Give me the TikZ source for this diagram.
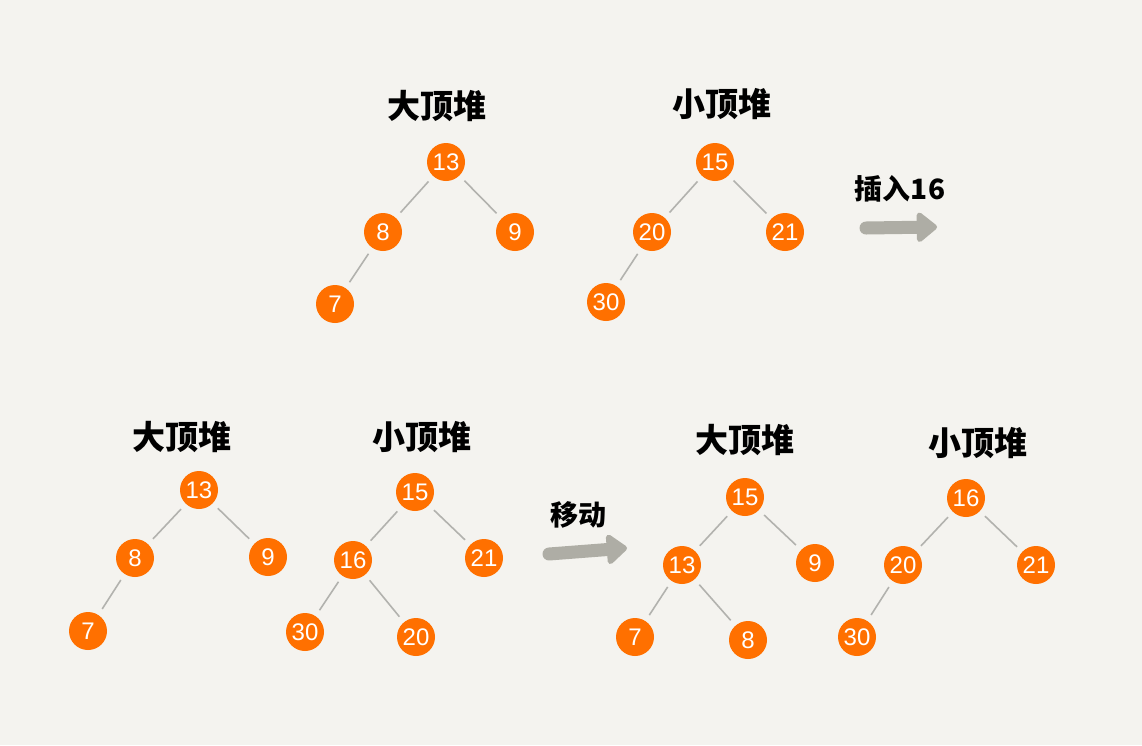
\documentclass[tikz,border=0pt]{standalone}
\usepackage{fontspec}
\setmainfont{Liberation Sans}
\newfontfamily\cjk{Noto Sans CJK SC}
\usetikzlibrary{arrows.meta}
\definecolor{paper}{HTML}{F4F3EF}
\definecolor{heap}{HTML}{FF7000}
\definecolor{link}{HTML}{B2B2AE}
\definecolor{shaft}{HTML}{AEADA5}
\tikzset{
  key/.style={circle,fill=heap,minimum size=38pt,inner sep=0pt,text=white,
    font=\fontsize{24}{24}\selectfont},
  heading/.style={font=\cjk\bfseries\fontsize{33}{33}\selectfont},
  note/.style={font=\cjk\bfseries\fontsize{28}{28}\selectfont},
  link/.style={draw=link,line width=1.6pt,shorten >=7pt,shorten <=7pt},
  move/.style={draw=shaft,line width=13pt,line cap=round,
    -{Triangle[length=22pt,width=34pt,round]}}
}
\begin{document}
\begin{tikzpicture}[x=1pt,y=-1pt]
        \fill[paper] (0,0) rectangle (1142,745);
        % top: before insert
        \node[heading] (abig) at (437,106) {大顶堆};
        \node[key] (a13) at (446,162) {13};
        \node[key] (a8) at (383,232) {8};
        \node[key] (a9) at (515,232) {9};
        \node[key] (a7) at (335,304) {7};
        \draw[link] (a13) -- (a8);
        \draw[link] (a13) -- (a9);
        \draw[link] (a8) -- (a7);
        \node[heading] (bsmall) at (722,104) {小顶堆};
        \node[key] (b15) at (715,162) {15};
        \node[key] (b20) at (652,232) {20};
        \node[key] (b21) at (785,232) {21};
        \node[key] (b30) at (606,302) {30};
        \draw[link] (b15) -- (b20);
        \draw[link] (b15) -- (b21);
        \draw[link] (b20) -- (b30);
        \node[note] (insert) at (900,189) {插入16};
        \coordinate (ifrom) at (866,228);
        \coordinate (ito) at (937,227);
        \draw[move] (ifrom) -- (ito);
        % bottom left: after insert
        \node[heading] (cbig) at (182,437) {大顶堆};
        \node[key] (c13) at (199,490) {13};
        \node[key] (c8) at (135,558) {8};
        \node[key] (c9) at (268,557) {9};
        \node[key] (c7) at (88,631) {7};
        \draw[link] (c13) -- (c8);
        \draw[link] (c13) -- (c9);
        \draw[link] (c8) -- (c7);
        \node[heading] (dsmall) at (422,437) {小顶堆};
        \node[key] (d15) at (415,492) {15};
        \node[key] (d16) at (353,560) {16};
        \node[key] (d21) at (484,558) {21};
        \node[key] (d30) at (305,632) {30};
        \node[key] (d20) at (416,637) {20};
        \draw[link] (d15) -- (d16);
        \draw[link] (d15) -- (d21);
        \draw[link] (d16) -- (d30);
        \draw[link] (d16) -- (d20);
        \node[note] (shift) at (578,515) {移动};
        \coordinate (mfrom) at (549,554);
        \coordinate (mto) at (627,548);
        \draw[move] (mfrom) -- (mto);
        % bottom right: after move
        \node[heading] (ebig) at (745,440) {大顶堆};
        \node[key] (e15) at (745,497) {15};
        \node[key] (e13) at (682,565) {13};
        \node[key] (e9) at (815,563) {9};
        \node[key] (e7) at (635,637) {7};
        \node[key] (e8) at (748,640) {8};
        \draw[link] (e15) -- (e13);
        \draw[link] (e15) -- (e9);
        \draw[link] (e13) -- (e7);
        \draw[link] (e13) -- (e8);
        \node[heading] (fsmall) at (978,443) {小顶堆};
        \node[key] (f16) at (966,498) {16};
        \node[key] (f20) at (903,565) {20};
        \node[key] (f21) at (1036,565) {21};
        \node[key] (f30) at (857,637) {30};
        \draw[link] (f16) -- (f20);
        \draw[link] (f16) -- (f21);
        \draw[link] (f20) -- (f30);
    \end{tikzpicture}
\end{document}
